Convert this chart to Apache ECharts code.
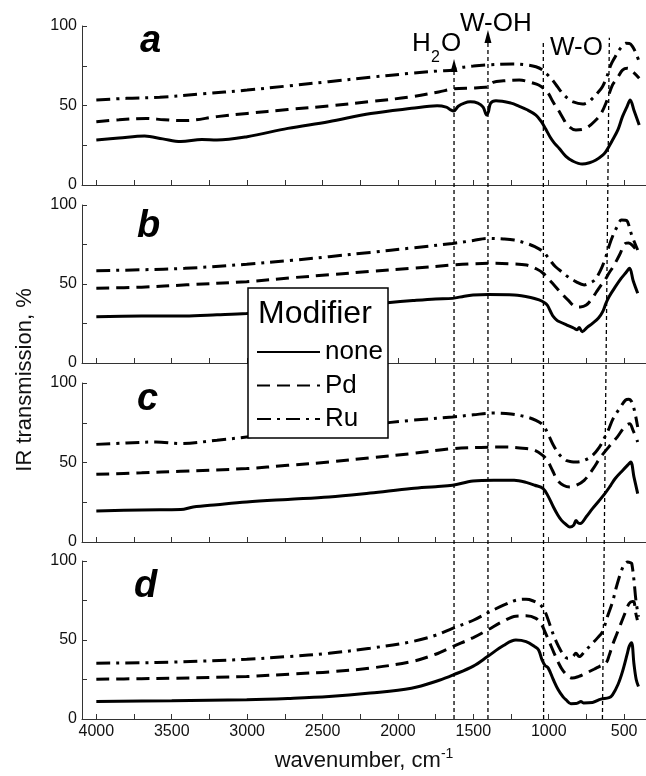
<!DOCTYPE html>
<html>
<head>
<meta charset="utf-8">
<script src="https://cdn.jsdelivr.net/npm/echarts@6/dist/echarts.min.js"></script>
<style>
  html, body { margin: 0; padding: 0; background: #fff; }
  #chart { width: 646px; height: 776px; }
</style>
</head>
<body>
<div id="chart"></div>
<script>
// IR transmission spectra of tungsten-oxide samples, four panels (a-d),
// three modifiers each. Values are [wavenumber (cm-1), transmission (%)].
const FONT = '"Liberation Sans", Arial, sans-serif';

const modifiers = ['none', 'Pd', 'Ru'];
const panelLetters = ['a', 'b', 'c', 'd'];

// shared wavenumber axis (drawn high -> low)
const wnMin = 355;
const wnMax = 4095;
const xLabelValues = [500, 1000, 1500, 2000, 2500, 3000, 3500, 4000];
const xTickValues = [500, 750, 1000, 1250, 1500, 1750, 2000, 2250, 2500, 2750, 3000, 3250, 3500, 3750, 4000];

// ---- panel a ----
const noneA = [[4000,28.3],[3850,29.5],[3680,30.8],[3560,29],[3440,27.3],[3300,28.6],[3200,28.3],[3000,30.4],[2730,35.6],[2460,39.8],[2180,45],[1910,48.2],[1740,49.8],[1680,49],[1655,47.5],[1630,46.5],[1600,49.5],[1560,51.5],[1520,52.3],[1470,51.5],[1435,49],[1412,44],[1400,46],[1385,51.5],[1350,53],[1250,51.5],[1195,49.5],[1147,47.5],[1085,44],[1050,40],[1019,35],[990,30],[964,26.5],[930,23],[886,18],[840,15],[778,13.2],[730,14],[687,15.7],[640,19],[621,21],[577,28.3],[540,35],[511,43],[480,49.5],[460,53.5],[435,47],[400,37.7]];
const pdA = [[4000,39.8],[3850,41],[3670,41.9],[3550,41],[3410,40.5],[3200,43],[3000,45],[2730,47.5],[2460,49.7],[2180,52.5],[1910,55.5],[1730,58.5],[1630,60.5],[1500,61],[1420,61.5],[1400,62],[1370,64.5],[1300,65.5],[1195,66],[1100,64],[1067,62.9],[1030,60.5],[1003,57.7],[970,52],[937,47.2],[905,42],[876,37.7],[820,34.6],[754,35.7],[687,40.9],[650,45.5],[621,51.4],[577,62.9],[540,68],[511,72.3],[478,73.4],[440,71],[400,67.1]];
const ruA = [[4000,53.5],[3800,54.5],[3580,55.2],[3300,57.3],[3000,59.7],[2730,62.3],[2460,65],[2180,67.8],[1910,70.3],[1730,71.7],[1630,72.3],[1615,73.4],[1500,74.8],[1406,75.5],[1240,76.1],[1150,75.6],[1085,74.4],[1041,72.3],[1010,69.5],[975,66],[940,61.5],[909,57.7],[875,54.5],[843,52.4],[776,50.9],[740,52],[710,54.5],[675,58],[644,61.8],[615,68],[588,75.5],[560,80.5],[533,84.9],[510,87.5],[488,89.1],[465,89],[444,87],[420,82.5],[400,77.5]];

// ---- panel b ----
const noneB = [[4000,29.3],[3700,29.7],[3413,29.7],[3200,30.5],[3003,31.4],[2070,38.2],[1900,39.5],[1750,40.5],[1638,40.9],[1560,42.3],[1502,43],[1400,43.3],[1229,43],[1120,41.5],[1064,39.9],[1030,38.3],[1010,36.7],[985,32],[969,29.3],[945,27],[928,26.1],[880,24],[832,22],[812,21],[798,22.5],[778,19.8],[745,22.5],[710,25.1],[670,28.5],[642,32.5],[620,38],[600,42],[560,48],[520,53.5],[490,57],[464,59.9],[440,52],[410,44.1]];
const pdB = [[4000,47.3],[3700,48],[3400,49.5],[3003,51.5],[2700,54],[2457,55.8],[2184,58],[1911,59.9],[1638,62],[1500,62.8],[1365,63.1],[1250,62.8],[1147,62],[1080,59.5],[1037,56.8],[995,52.5],[955,48.3],[910,43.5],[873,39.9],[819,35.6],[790,35.5],[751,36.7],[715,40.5],[683,45.1],[655,49],[628,52.5],[600,57],[573,60.9],[530,68.5],[491,75.7],[470,76],[440,74],[410,70.4]];
const ruB = [[4000,58.4],[3700,59],[3413,59.9],[3003,62.5],[2700,65],[2457,67.3],[2184,70],[1911,72.8],[1638,75.7],[1500,77.5],[1406,78.9],[1300,78.5],[1229,77.8],[1150,75.8],[1092,73.6],[1037,70.4],[995,65.5],[955,60.9],[910,57.5],[873,54.6],[820,51.5],[765,49.4],[730,50.5],[696,52.5],[660,58],[628,65.2],[600,74],[573,81],[545,86.5],[518,90.5],[490,90.3],[477,89.4],[450,81],[410,71.5]];

// ---- panel c ----
const noneC = [[4000,19.5],[3700,20.2],[3440,20.4],[3358,22],[3200,23.5],[3003,25.2],[2730,26.8],[2457,28.3],[2184,30.8],[1911,33.6],[1750,34.8],[1638,35.7],[1502,38.4],[1365,38.9],[1229,38.8],[1150,37.5],[1092,35.7],[1037,33.6],[1005,29],[969,22],[940,17],[915,13.6],[885,11],[860,9.4],[835,10.5],[819,13.6],[805,12],[791,11.6],[750,16],[710,21],[670,25.5],[628,30.4],[590,35.5],[559,39.9],[510,45],[475,48.5],[456,50.3],[435,41],[410,30.4]];
const pdC = [[4000,42.6],[3700,43.5],[3440,44.5],[3003,46.2],[2730,48.2],[2457,50.3],[2184,53],[1911,55.6],[1638,58.7],[1450,59.5],[1283,59.7],[1150,58.8],[1092,57.7],[1040,54.5],[1010,51.4],[975,45],[942,38.8],[900,35.5],[860,34.6],[820,35.5],[765,38.8],[710,45.5],[655,53.5],[600,60],[546,66],[500,72],[464,74.4],[440,70],[410,62.9]];
const ruC = [[4000,61.4],[3800,62.3],[3604,62.9],[3440,61.9],[3200,64],[3003,66],[2730,68.7],[2457,71.3],[2184,73.9],[1911,76.5],[1638,78.6],[1500,80],[1365,81.1],[1250,80.5],[1147,78.6],[1085,76.5],[1037,73.4],[1000,67],[969,60.8],[930,55],[887,51.4],[850,50.5],[819,50.3],[760,51.5],[710,54.5],[665,59.5],[628,66],[600,71.5],[573,77.6],[530,84],[491,89.2],[470,89.8],[450,88.2],[430,82],[410,72.3]];

// ---- panel d ----
const noneD = [[4000,11.1],[3500,11.5],[3003,12.2],[2730,13],[2457,14.2],[2184,16.4],[1911,19.5],[1726,24.5],[1633,27.9],[1500,33.5],[1406,39.5],[1300,46.5],[1218,50],[1150,49],[1092,45.8],[1067,43.7],[1045,37.5],[1025,34],[1003,32.2],[970,25],[937,18.5],[905,14],[886,12.2],[853,9.7],[820,9.8],[800,10.5],[787,11.1],[770,10.2],[710,10.5],[654,12.6],[600,13.5],[577,15.3],[540,22],[511,30],[480,41],[467,45.8],[451,48.3],[435,35],[420,25],[405,20.6]];
const pdD = [[4000,25.2],[3700,25.5],[3500,25.8],[3003,26.9],[2700,28.5],[2457,29.8],[2184,32.2],[1911,36.3],[1750,41],[1638,45.8],[1500,51.5],[1406,56.3],[1300,62],[1218,65.1],[1150,65.3],[1085,63.7],[1050,60],[1030,56.3],[995,48.5],[964,41.6],[935,35.5],[909,31.1],[870,27],[843,25.9],[800,27],[754,29],[700,31.5],[665,33.2],[621,35.3],[600,40],[577,46.8],[550,53.5],[521,60.5],[490,68],[467,73.1],[445,74.4],[434,74.1],[425,68],[412,62.6]];
const ruD = [[4000,35.3],[3700,35.6],[3500,36],[3003,37.8],[2730,39.5],[2457,41.6],[2184,44.8],[1911,48.9],[1750,53],[1638,57.4],[1500,62.5],[1406,67.2],[1300,72],[1218,75.2],[1150,75.8],[1130,75.6],[1067,73.1],[1040,70.5],[1019,66.8],[990,59],[964,52.1],[935,46],[909,41.6],[876,38.5],[840,39.5],[820,41.6],[798,39.5],[760,43],[710,47.9],[675,51.5],[644,55.2],[610,65],[577,74.1],[550,84],[521,93],[500,97.5],[478,99.3],[455,98.8],[449,98.3],[435,88],[422,75.2],[405,64.7]];

// band guide lines (dashed verticals through all panels)
const bandTopWn    = [1628, 1403, 1036, 598];
const bandBottomWn = [1628, 1403, 1034, 644];
const bandTopLevel = [94.3, 98.5, 97.7, 98.3];   // % of the stacked plot height
const bandHasArrow = [true, true, false, false];

const panelData = [
  [noneA, pdA, ruA],
  [noneB, pdB, ruB],
  [noneC, pdC, ruC],
  [noneD, pdD, ruD]
];

// layout
const plotLeft = 82;
const panelTops = [26, 205, 383, 561];
const panelHeights = [159, 158, 159, 158];
const lineTypes = ['solid', [13, 7], [14, 6, 3, 6]];
const AXIS_COLOR = '#333';

const grids = [], xAxes = [], yAxes = [], series = [];

panelData.forEach((group, p) => {
  const last = p === panelData.length - 1;
  grids.push({ left: plotLeft, right: 0, top: panelTops[p], height: panelHeights[p] });
  xAxes.push({
    type: 'value', gridIndex: p, min: wnMin, max: wnMax, inverse: true,
    axisLine: { show: true, lineStyle: { color: AXIS_COLOR, width: 1 } },
    axisTick: { show: true, inside: true, length: 5, customValues: xTickValues,
                lineStyle: { color: AXIS_COLOR } },
    axisLabel: { show: last, customValues: xLabelValues, margin: 5,
                 formatter: v => String(v),
                 fontFamily: FONT, fontSize: 16, color: '#111' },
    splitLine: { show: false },
    name: last ? 'wavenumber, cm{sup|-1}' : '',
    nameLocation: 'middle', nameGap: 28,
    nameTextStyle: {
      fontFamily: FONT, fontSize: 22, color: '#111', lineHeight: 28,
      rich: { sup: { fontFamily: FONT, fontSize: 14, lineHeight: 14, verticalAlign: 'top', color: '#111' } }
    }
  });
  yAxes.push({
    type: 'value', gridIndex: p, min: 0, max: 100, interval: 25,
    axisLine: { show: true, lineStyle: { color: AXIS_COLOR, width: 1 } },
    axisTick: { show: true, inside: true, length: 5, lineStyle: { color: AXIS_COLOR } },
    axisLabel: { margin: 5, fontFamily: FONT, fontSize: 16, color: '#111',
                 formatter: v => (v % 50 === 0 ? String(v) : '') },
    splitLine: { show: false }
  });
  group.forEach((values, m) => {
    series.push({
      type: 'line', name: modifiers[m], xAxisIndex: p, yAxisIndex: p,
      data: values, symbol: 'none', smooth: 0.35, silent: true,
      lineStyle: { color: '#000', width: 3, type: lineTypes[m] },
      itemStyle: { color: '#000' },
      z: 3
    });
  });
});

// overlay coordinate system spanning the whole stack, for the band guides
const overlay = panelData.length;
grids.push({ left: plotLeft, right: 0, top: panelTops[0],
             height: panelTops[3] + panelHeights[3] - panelTops[0] });
xAxes.push({ type: 'value', gridIndex: overlay, min: wnMin, max: wnMax, inverse: true, show: false });
yAxes.push({ type: 'value', gridIndex: overlay, min: 0, max: 100, show: false });

bandTopWn.forEach((wn, i) => {
  series.push({
    type: 'line', xAxisIndex: overlay, yAxisIndex: overlay, silent: true,
    symbol: 'none', showSymbol: true, clip: false,
    lineStyle: { color: '#000', width: 1.3, type: [4, 3] },
    itemStyle: { color: '#000' },
    data: [
      [bandBottomWn[i], 0],
      { value: [wn, bandTopLevel[i]],
        symbol: bandHasArrow[i] ? 'triangle' : 'none', symbolSize: [7, 13] }
    ],
    z: 4
  });
});

const txt = (text, x, y, size, extra) => Object.assign({
  type: 'text', x: x, y: y, z: 120,
  style: Object.assign({ text: text, fontFamily: FONT, fontSize: size, fill: '#000',
                         align: 'left', verticalAlign: 'middle' }, extra || {})
});

const letterPos = [[140, 42], [137, 227], [137, 400], [134, 587]];
const graphics = [
  // legend frame
  { type: 'rect', z: 100, shape: { x: 248, y: 288, width: 140, height: 150 },
    style: { fill: '#fff', stroke: '#000', lineWidth: 1.5 } },
  txt('Modifier', 258, 314, 32),
  // band labels
  txt('H', 412, 44, 26),
  txt('2', 431, 58, 16),
  txt('O', 441, 44, 26),
  txt('W-OH', 460, 24, 26),
  txt('W-O', 550, 48, 26),
  // y axis title
  { type: 'text', x: 25, y: 380, rotation: Math.PI / 2, z: 120,
    style: { text: 'IR transmission, %', fontFamily: FONT, fontSize: 22, fill: '#111',
             align: 'center', verticalAlign: 'middle' } }
];
panelLetters.forEach((l, i) => {
  graphics.push(txt(l, letterPos[i][0], letterPos[i][1], 38,
    { fontWeight: 'bold', fontStyle: 'italic' }));
});

const chart = echarts.init(document.getElementById('chart'), null, { renderer: 'canvas' });
chart.setOption({
  animation: false,
  backgroundColor: '#fff',
  grid: grids,
  xAxis: xAxes,
  yAxis: yAxes,
  legend: {
    data: modifiers, orient: 'vertical', left: 256, top: 339, z: 110,
    itemWidth: 63, itemHeight: 20, itemGap: 7.5, padding: 0,
    selectedMode: false,
    itemStyle: { opacity: 0, borderWidth: 0 },
    textStyle: { fontFamily: FONT, fontSize: 26, lineHeight: 26, color: '#000' }
  },
  graphic: graphics,
  series: series
});
</script>
</body>
</html>
